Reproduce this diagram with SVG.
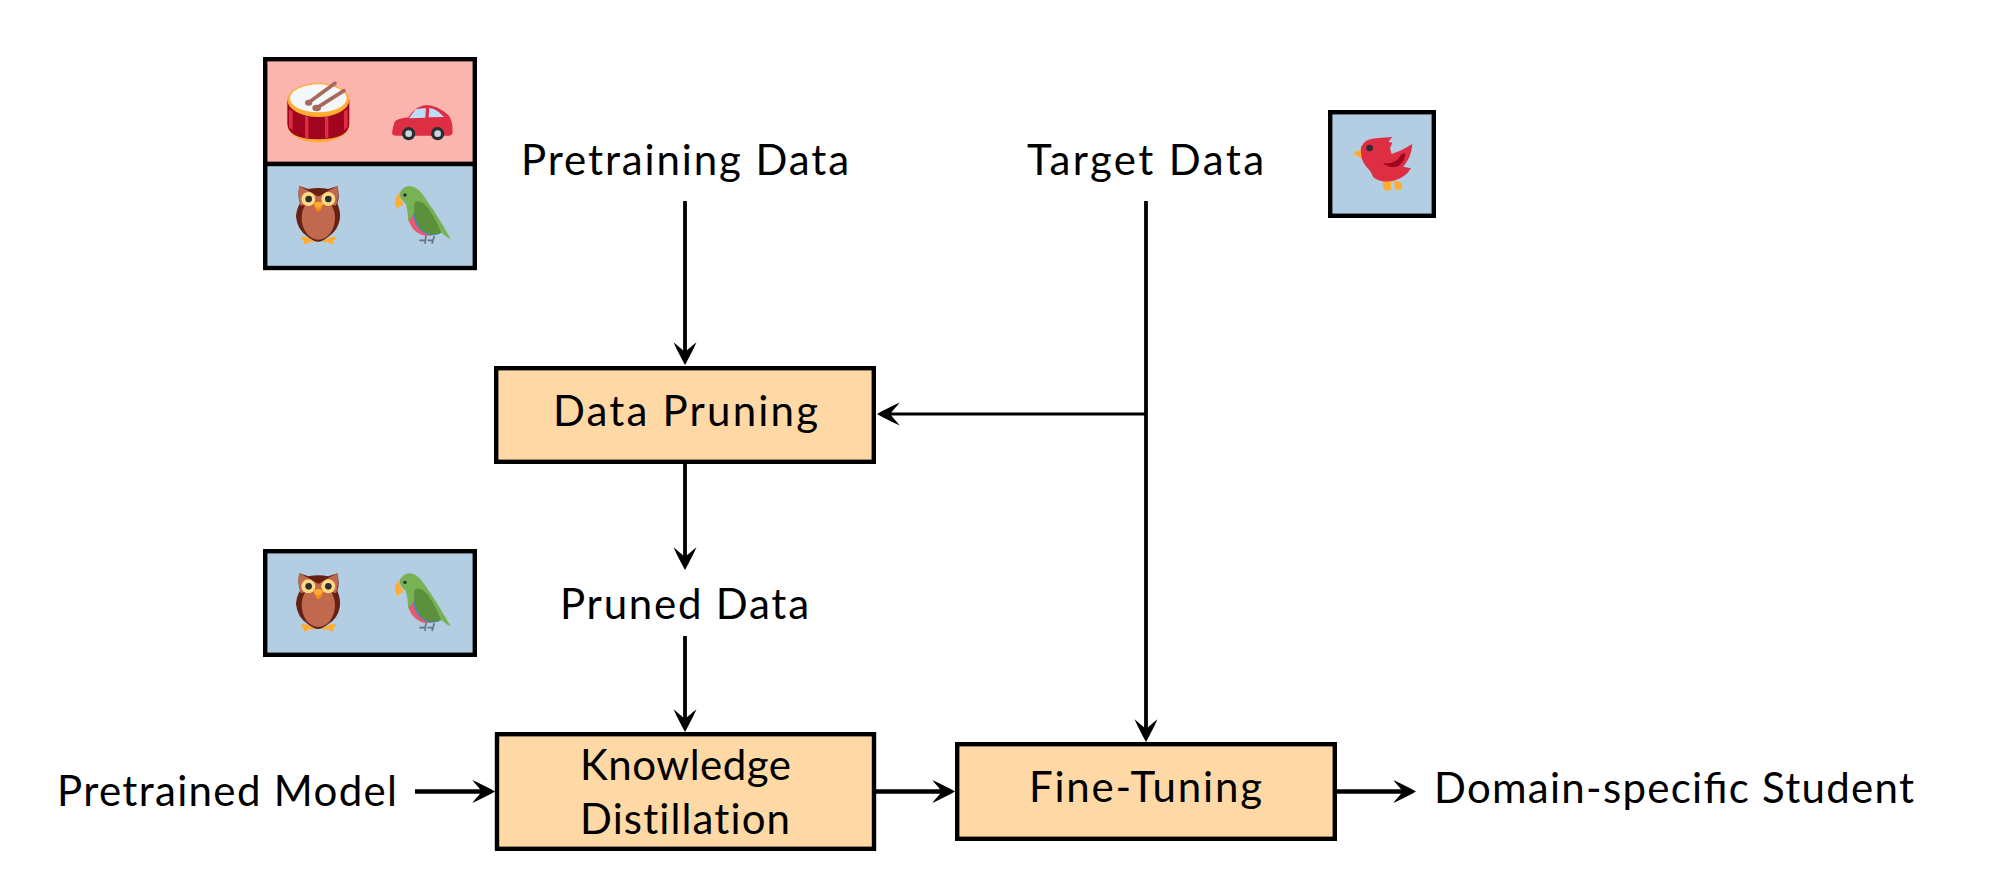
<svg xmlns="http://www.w3.org/2000/svg" width="2014" height="873" viewBox="0 0 2014 873">
<style>
text{font-family:"Lato","Liberation Sans",sans-serif;font-size:42px;fill:#000}
.nolig{font-variant-ligatures:none}
.box{fill:#FED9A6;stroke:#000;stroke-width:4.4}
.panelB{fill:#B3CDE3;stroke:#000;stroke-width:4.4}
.panelR{fill:#FBB4AE;stroke:#000;stroke-width:4.4}
.c{fill:none;stroke:#000;stroke-width:3.8;marker-end:url(#ah)}
.t{stroke-width:4.6}
.n{fill:none;stroke:#000;stroke-width:3.2;marker-end:url(#ah)}
</style>
<defs>
<marker id="ah" markerUnits="userSpaceOnUse" markerWidth="32" markerHeight="32" viewBox="-26 -16 32 32" refX="-10" refY="0" orient="auto">
<path d="M0 0C-6-3.500-14-7.500-22.700-11.500C-19-6.500-15-3-13.500 0C-15 3-19 6.500-22.700 11.500C-14 7.500-6 3.500 0 0Z" fill="#000"/>
</marker>
<g id="owl">
<path d="M178 438L205 447Q235 441 265 447L292 438Q300 470 292 490Q302 515 300 535Q295 572 265 590Q247 605 235 605Q220 605 203 590Q172 570 168 530Q170 505 180 490Q172 465 178 438Z" fill="#662113"/>
<path d="M178 438L205 452L235 470L265 452L292 438Q298 470 288 497Q260 490 235 500Q210 490 182 497Q172 470 178 438Z" fill="#C1694F"/>
<ellipse cx="235" cy="534" rx="50" ry="65" fill="#C1694F"/>
<circle cx="205" cy="477" r="21" fill="#FFD983"/><circle cx="265" cy="477" r="21" fill="#FFD983"/>
<circle cx="206" cy="477" r="10" fill="#292F33"/><circle cx="265" cy="477" r="10" fill="#292F33"/>
<path d="M221 490Q235 480 249 490Q247 508 235 516Q224 508 221 490Z" fill="#F4900C"/>
<path d="M221 490Q235 480 249 490Q245 502 235 504Q225 502 221 490Z" fill="#FFAC33"/>
<path d="M183 592Q195 585 225 605Q215 610 207 605Q198 615 190 612Q195 605 190 600Q182 600 183 592ZM288 592Q276 585 246 605Q256 610 264 605Q273 615 281 612Q276 605 281 600Q289 600 288 592Z" fill="#FFAC33"/>
</g>
<g id="parrot">
<path d="M504 528Q508 570 545 585Q575 592 602 576L550 500Z" fill="#EA596E"/>
<path d="M520 520Q522 565 560 583Q585 590 605 578L560 520Z" fill="#4289C1"/>
<path d="M478 462Q488 438 510 438Q535 440 558 478Q595 530 632 597Q615 590 600 572L530 500L522 520L505 545Q504 515 498 492Q482 480 478 462Z" fill="#77B255"/>
<path d="M525 485Q545 478 565 505Q590 540 603 578Q570 590 545 570Q520 540 522 500Z" fill="#5C913B"/>
<path d="M478 460Q465 470 465 485Q468 505 474 507Q478 495 492 495Q480 480 478 460Z" fill="#FFAC33"/>
<circle cx="495" cy="465" r="5" fill="#292F33"/>
<path d="M558 586L555 611M538 601H557M583 588L576 611M563 601H581" fill="none" stroke="#66757F" stroke-width="5"/>
</g>
</defs>
<rect width="2014" height="873" fill="#fff"/>

<g id="connectors">
<path class="c" d="M685 201V355"/>
<path class="c" d="M685 464V560"/>
<path class="c" d="M685 636V722"/>
<path class="c" d="M1146 201V732"/>
<path class="n" d="M1146 414H887"/>
<path class="c t" d="M415 791.500H485"/>
<path class="c t" d="M876 791.500H945"/>
<path class="c t" d="M1337 791.500H1406"/>
</g>

<g id="panel-pretraining">
<rect class="panelR" x="265.200" y="59.200" width="209.600" height="104.800"/>
<rect class="panelB" x="265.200" y="164" width="209.600" height="104"/>
<g id="drum" transform="translate(240 40) scale(.3333)">
<ellipse cx="235" cy="255" rx="93" ry="52" fill="#FFAC33"/>
<path d="M142 180H328V250Q328 298 235 298Q142 298 142 250Z" fill="#A0041E"/>
<path d="M147 208l11 6v58l-11-12ZM195 228l10 2v66l-10-2ZM255 230l10-2v66l-10 2ZM312 214l11-6v52l-11 12Z" fill="#DD2E44"/>
<ellipse cx="235" cy="180" rx="93" ry="51" fill="#FFAC33"/>
<ellipse cx="235" cy="175" rx="85" ry="42" fill="#F5F8FA"/>
<path d="M205 188L285 130M228 205L312 152" fill="none" stroke="#A8685A" stroke-width="11" stroke-linecap="round"/>
<ellipse cx="206" cy="188" rx="11" ry="9" fill="#A8685A"/><ellipse cx="230" cy="204" rx="13" ry="10" fill="#A8685A"/>
</g>
<g id="car" transform="translate(240 40) scale(.3333)">
<path d="M456 278Q458 262 464 245Q470 236 505 232Q528 196 560 195Q590 195 625 225Q638 240 638 275Q638 287 625 287H470Q456 287 456 278Z" fill="#DD2E44"/>
<path d="M507 235L527 208Q545 205 558 205L556 233ZM568 204Q590 206 612 231L566 232Z" fill="#BBDDF5"/>
<circle cx="506" cy="281" r="20" fill="#292F33"/><circle cx="593" cy="281" r="20" fill="#292F33"/>
<circle cx="506" cy="281" r="10" fill="#CCD6DD"/><circle cx="593" cy="281" r="10" fill="#CCD6DD"/>
</g>
<g transform="translate(240 40) scale(.3333)"><use href="#owl"/><use href="#parrot"/></g>
</g>

<g id="panel-target">
<rect class="panelB" x="1330.200" y="112.200" width="103.600" height="103.600"/>
<g id="bird" transform="translate(1300 90) scale(.3333)">
<path d="M248 272L274 274Q272 290 274 298L262 304L250 296ZM280 270L306 280Q309 292 304 298L288 301Z" fill="#FFAC33"/>
<path d="M158 190L184 178L187 207Z" fill="#FFAC33"/>
<path d="M183 172Q192 145 235 144L277 141L265 155L277 158L270 175L275 192Q310 180 337 162Q335 200 310 230L333 235Q315 265 280 272Q240 280 220 262Q212 242 200 232Q180 210 183 172Z" fill="#DD2E44"/>
<path d="M248 218Q285 228 305 192L316 190Q315 215 295 228Q270 238 248 218Z" fill="#A0041E"/>
<circle cx="209" cy="174" r="10" fill="#292F33"/>
</g>
</g>

<g id="panel-pruned">
<rect class="panelB" x="265.200" y="551.200" width="209.600" height="103.600"/>
<g transform="translate(250 540) scale(.3333) translate(-30 -338)"><use href="#owl"/><use href="#parrot"/></g>
</g>

<g id="pretraining-data"><text x="521" y="175" textLength="328">Pretraining Data</text></g>
<g id="target-data"><text x="1027" y="175" textLength="237">Target Data</text></g>
<g id="data-pruning"><rect class="box" x="496.200" y="368.200" width="377.600" height="93.600"/><text x="553" y="426" textLength="265">Data Pruning</text></g>
<g id="pruned-data"><text x="560" y="619" textLength="249">Pruned Data</text></g>
<g id="knowledge-distillation"><rect class="box" x="497" y="734.200" width="377" height="114.600"/><text x="580" y="780" textLength="211">Knowledge</text><text class="nolig" x="580" y="834" textLength="210">Distillation</text></g>
<g id="fine-tuning"><rect class="box" x="957.200" y="744.200" width="377.600" height="94.600"/><text x="1029" y="802" textLength="233">Fine-Tuning</text></g>
<g id="pretrained-model"><text x="57" y="806" textLength="340">Pretrained Model</text></g>
<g id="student"><text x="1434" y="803" textLength="480">Domain-specific Student</text></g>
</svg>
